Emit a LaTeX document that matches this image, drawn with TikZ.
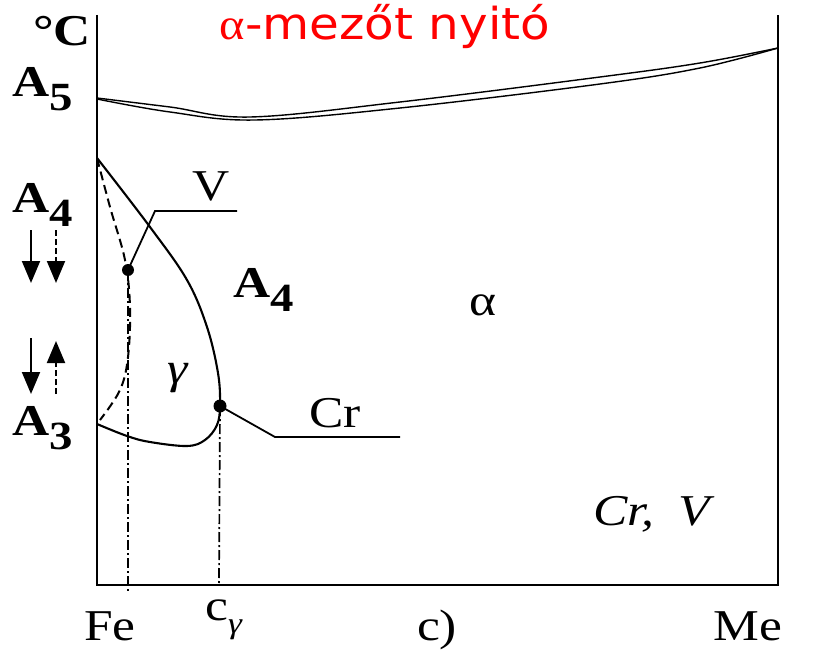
\documentclass[tikz,border=0pt]{standalone}
\usepackage{graphicx}
\usepackage{fontspec}
\setmainfont{Liberation Serif}
\newfontfamily\titlefont{DejaVu Sans}
\usetikzlibrary{arrows.meta}
\newcommand\widetxt[1]{\scalebox{1.17}[1]{#1}}
\newcommand\subA[1]{\textbf{A}\raisebox{-14pt}{\fontsize{40}{40}\selectfont\textbf{#1}}}
\begin{document}
\begin{tikzpicture}[x=1pt,y=-1pt,
  lbl/.style={inner sep=0pt, anchor=base, font=\fontsize{44}{48}\selectfont},
  axisline/.style={line width=2.6pt},
  curve/.style={line width=2.1pt},
  twin/.style={line width=1.4pt},
  dashcurve/.style={line width=2pt, dash pattern=on 9pt off 5pt},
  dashdot/.style={line width=1.7pt, dash pattern=on 10pt off 3pt on 2pt off 3pt},
  dotnode/.style={circle, fill=black, inner sep=0pt, minimum size=13pt},
  arr/.style={line width=2pt, -{Triangle[length=22pt,width=18pt]}},
  darr/.style={arr, dash pattern=on 6pt off 3pt}]
\useasboundingbox (0,0) rectangle (819,650);

% axes
\coordinate (ltop) at (97,15);
\coordinate (lbot) at (97,585);
\coordinate (rbot) at (778,585);
\coordinate (rtop) at (778,15);
\draw[axisline] (ltop) -- (lbot) -- (rbot) -- (rtop);

% A5 twin curves
\draw[twin] plot[smooth, tension=0.6] coordinates {(97,98) (170,107) (250,117) (400,102) (600,77) (700,63) (778,48)};
\draw[twin] plot[smooth, tension=0.6] coordinates {(97,99) (170,112) (255,120) (400,108) (600,84) (700,68) (778,48)};

% gamma loop (solid)
\draw[curve] plot[smooth, tension=0.6] coordinates {(97,158) (150,227) (187,280) (207,327) (218,373) (220,405) (217,425) (205,440) (187,446) (150,442) (127,436) (97,424)};

% dashed curve
\draw[dashcurve] plot[smooth, tension=0.6] coordinates {(97,158) (110,207) (125,260) (130,307) (128,357) (120,390) (100,420)};

% dots
\node[dotnode, minimum size=12pt] (vdot) at (128,270) {};
\node[dotnode] (crdot) at (220,406) {};

% leaders
\coordinate (vknee) at (155,211);
\coordinate (vend) at (237,211);
\draw[line width=1.8pt] (vdot.center) -- (vknee) -- (vend);
\coordinate (crknee) at (275,437);
\coordinate (crend) at (400,437);
\draw[line width=1.8pt] (crdot.center) -- (crknee) -- (crend);

% dash-dot verticals
\coordinate (vbot) at (128,593);
\coordinate (crbot) at (219,585);
\draw[dashdot] (vdot.center) -- (vbot);
\draw[dashdot] (crdot.center) -- (crbot);

% arrows
\coordinate (a1s) at (31,230); \coordinate (a1e) at (31,283);
\coordinate (a2s) at (56,230); \coordinate (a2e) at (56,283);
\coordinate (a3s) at (31,338); \coordinate (a3e) at (31,394);
\coordinate (a4s) at (56,394); \coordinate (a4e) at (56,341);
\draw[arr] (a1s) -- (a1e);
\draw[darr] (a2s) -- (a2e);
\draw[arr] (a3s) -- (a3e);
\draw[darr] (a4s) -- (a4e);

% labels
\node[anchor=base, inner sep=0pt, text=red, font=\titlefont\fontsize{44}{48}\selectfont] (title) at (385,40) {\scalebox{1.1}[1]{{\rmfamily α}-mezőt nyitó}};
\node[lbl] (degC) at (62,46) {\widetxt{\textbf{°C}}};
\node[lbl, anchor=base west] (A5) at (12,97) {\widetxt{\subA{5}}};
\node[lbl, anchor=base west] (A4l) at (12,212) {\widetxt{\subA{4}}};
\node[lbl, anchor=base west] (A3) at (12,435) {\widetxt{\subA{3}}};
\node[lbl, anchor=base west] (A4i) at (233,297) {\widetxt{\subA{4}}};
\node[lbl] (V) at (211,200) {\widetxt{V}};
\node[lbl] (Cr) at (335,427) {\widetxt{Cr}};
\node[lbl] (gam) at (178,383) {\widetxt{\textit{γ}}};
\node[lbl] (alp) at (483,315) {\widetxt{α}};
\node[lbl, anchor=base west] (CrV) at (593,525) {\widetxt{\textit{Cr,\hspace{9pt} V}}};
\node[lbl] (Fe) at (110,640) {\widetxt{Fe}};
\node[lbl, anchor=base west] (cg) at (205,620) {\widetxt{c\raisebox{-13pt}{\fontsize{30}{30}\selectfont\textit{γ}}}};
\node[lbl] (cpar) at (437,640) {\widetxt{c)}};
\node[lbl] (Me) at (748,640) {\widetxt{Me}};
\end{tikzpicture}
\end{document}
